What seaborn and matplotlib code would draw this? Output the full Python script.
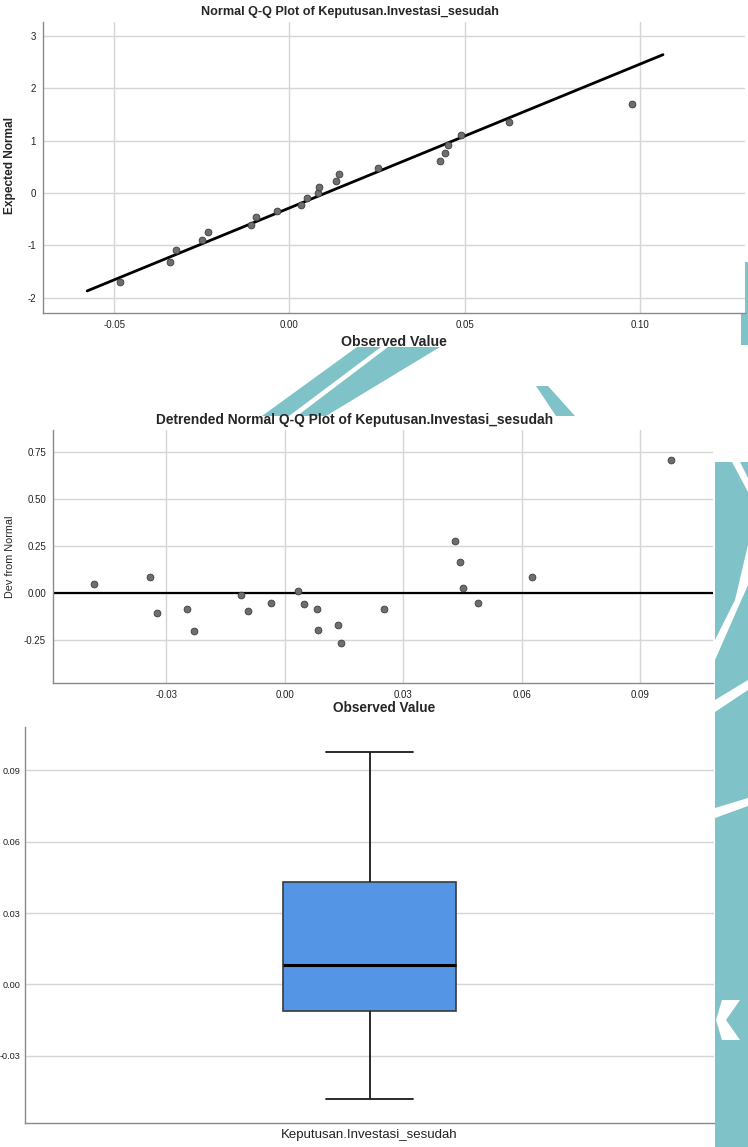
import numpy as np
import matplotlib.pyplot as plt
import matplotlib.patches as mpatches
import seaborn as sns

# ---------------------------------------------------------------------------
# values (Keputusan.Investasi_sesudah, n = 21)
# ---------------------------------------------------------------------------
observed = [-0.0483, -0.0341, -0.0324, -0.0248, -0.0231, -0.0110, -0.0094,
            -0.0035, 0.0034, 0.0049, 0.0082, 0.0084, 0.0134, 0.0142,
            0.0252, 0.0431, 0.0443, 0.0452, 0.0489, 0.0627, 0.0978]
expected_normal = [-1.69, -1.32, -1.09, -0.90, -0.74, -0.60, -0.46, -0.34,
                   -0.22, -0.10, 0.01, 0.12, 0.24, 0.36, 0.48, 0.61, 0.76,
                   0.92, 1.11, 1.35, 1.70]
dev_from_normal = [0.049, 0.088, -0.106, -0.083, -0.201, -0.011, -0.095,
                   -0.053, 0.012, -0.058, -0.083, -0.193, -0.168, -0.265,
                   -0.085, 0.277, 0.166, 0.030, -0.053, 0.086, 0.705]

# reference line of the Q-Q plot (mean / sd as drawn)
line_mean = 0.0103
line_sd = 0.0364
line_x = [-0.0577, 0.1066]

variable = "Keputusan.Investasi_sesudah"
qq_xticks = [-0.05, 0.00, 0.05, 0.10]
qq_yticks = [-2, -1, 0, 1, 2, 3]
dt_xticks = [-0.03, 0.00, 0.03, 0.06, 0.09]
dt_yticks = [-0.25, 0.00, 0.25, 0.50, 0.75]
bx_yticks = [-0.03, 0.00, 0.03, 0.06, 0.09]

# ---------------------------------------------------------------------------
sns.set_theme(style="white")
plt.rcParams["font.family"] = ["Liberation Sans", "DejaVu Sans"]

W, H = 748, 1147
fig = plt.figure(figsize=(W / 100, H / 100), dpi=100, facecolor="white")


def px_rect(l, t, r, b):
    return [l / W, 1 - b / H, (r - l) / W, (b - t) / H]


def fx(x):
    return x / W


def fy(y):
    return 1 - y / H


# teal watermark peeking around the screenshots
TEAL = "#7fc3c9"
shapes = [
    [(715, 462), (748, 462), (748, 1147), (715, 1147)],
    [(741, 262), (748, 262), (748, 345), (741, 345)],
    [(357, 347), (381, 347), (289, 416), (262, 416)],
    [(388, 347), (440, 347), (326, 416), (297, 416)],
    [(536, 386), (548, 386), (575, 416), (556, 416)],
]
for pts in shapes:
    fig.patches.append(mpatches.Polygon([(fx(a), fy(b)) for a, b in pts],
                                        closed=True, transform=fig.transFigure,
                                        facecolor=TEAL, edgecolor="none", zorder=-10))
white_bands = [
    [(732, 462), (740, 462), (748, 478), (748, 492)],
    [(748, 545), (748, 585), (715, 660), (715, 640), (735, 600)],
    [(715, 700), (748, 680), (748, 690), (715, 712)],
    [(715, 808), (748, 798), (748, 806), (715, 818)],
    [(722, 1000), (740, 1000), (726, 1020), (740, 1040), (722, 1040), (716, 1020)],
]
for pts in white_bands:
    fig.patches.append(mpatches.Polygon([(fx(a), fy(b)) for a, b in pts],
                                        closed=True, transform=fig.transFigure,
                                        facecolor="white", edgecolor="none", zorder=-9))


def spss_axes(ax, xgrid=True):
    ax.set_facecolor("white")
    for s in ["top", "right"]:
        ax.spines[s].set_visible(False)
    for s in ["left", "bottom"]:
        ax.spines[s].set_color("#8a8a8a")
        ax.spines[s].set_linewidth(1.0)
    ax.tick_params(length=0, labelsize=7, colors="#222222", pad=5)
    ax.yaxis.grid(True, color="#d6d6d6", lw=1.0)
    ax.xaxis.grid(xgrid, color="#d6d6d6", lw=1.0)
    ax.set_axisbelow(True)


# ---------------------------------------------------------------------------
# 1. Normal Q-Q plot
# ---------------------------------------------------------------------------
ax1 = fig.add_axes(px_rect(43, 22, 745, 313))
spss_axes(ax1)
line_y = [(v - line_mean) / line_sd for v in line_x]
sns.lineplot(x=line_x, y=line_y, ax=ax1, color="black", lw=2.0)
sns.scatterplot(x=observed, y=expected_normal, ax=ax1, s=24,
                color="#6e6e6e", edgecolor="#3c3c3c", linewidth=0.6, zorder=3)
ax1.set_xlim(-0.0703, 0.130)
ax1.set_ylim(-2.29, 3.27)
ax1.set_xticks(qq_xticks)
ax1.set_xticklabels([f"{v:.2f}" for v in qq_xticks])
ax1.set_yticks(qq_yticks)
ax1.set_yticklabels([str(v) for v in qq_yticks])
ax1.set_xlabel("")
ax1.set_ylabel("")
fig.text(fx(350), fy(12), f"Normal Q-Q Plot of {variable}", ha="center",
         va="center", fontsize=9.1, fontweight="bold")
fig.text(fx(394), fy(342), "Observed Value", ha="center", va="center",
         fontsize=10.2, fontweight="bold")
fig.text(fx(10), fy(166), "Expected Normal", ha="center", va="center",
         rotation=90, fontsize=8.6, fontweight="bold")

# ---------------------------------------------------------------------------
# 2. Detrended Normal Q-Q plot
# ---------------------------------------------------------------------------
ax2 = fig.add_axes(px_rect(53, 430, 713, 683))
spss_axes(ax2)
ax2.axhline(0, color="black", lw=1.6, zorder=2)
sns.scatterplot(x=observed, y=dev_from_normal, ax=ax2, s=24,
                color="#6e6e6e", edgecolor="#3c3c3c", linewidth=0.6, zorder=3)
ax2.set_xlim(-0.0587, 0.1084)
ax2.set_ylim(-0.475, 0.864)
ax2.set_xticks(dt_xticks)
ax2.set_xticklabels([f"{v:.2f}" for v in dt_xticks])
ax2.set_yticks(dt_yticks)
ax2.set_yticklabels([f"{v:.2f}" for v in dt_yticks])
ax2.set_xlabel("")
ax2.set_ylabel("")
fig.text(fx(355), fy(420), f"Detrended Normal Q-Q Plot of {variable}",
         ha="center", va="center", fontsize=9.9, fontweight="bold")
fig.text(fx(384), fy(708), "Observed Value", ha="center", va="center",
         fontsize=9.8, fontweight="bold")
fig.text(fx(10), fy(557), "Dev from Normal", ha="center", va="center",
         rotation=90, fontsize=7.8)

# ---------------------------------------------------------------------------
# 3. Boxplot
# ---------------------------------------------------------------------------
ax3 = fig.add_axes(px_rect(25, 727, 714, 1123))
spss_axes(ax3, xgrid=False)
sns.boxplot(y=observed, ax=ax3, width=0.25, whis=1.5, color="#5595e5",
            saturation=1, linewidth=1.2, linecolor="#3a3a3a",
            medianprops=dict(color="black", lw=2.2),
            whiskerprops=dict(color="#1a1a1a", lw=1.3),
            capprops=dict(color="#1a1a1a", lw=1.3), capwidths=0.125)
ax3.set_xlim(-0.5, 0.5)
ax3.set_ylim(-0.0583, 0.1083)
ax3.set_yticks(bx_yticks)
ax3.set_yticklabels([f"{v:.2f}" for v in bx_yticks])
ax3.tick_params(axis="y", labelsize=6.6, pad=3)
ax3.set_xticks([0])
ax3.set_xticklabels([variable], fontsize=9.5)
ax3.tick_params(axis="x", pad=4)
ax3.set_ylabel("")

fig.savefig("out.png", dpi=100, facecolor="white")
